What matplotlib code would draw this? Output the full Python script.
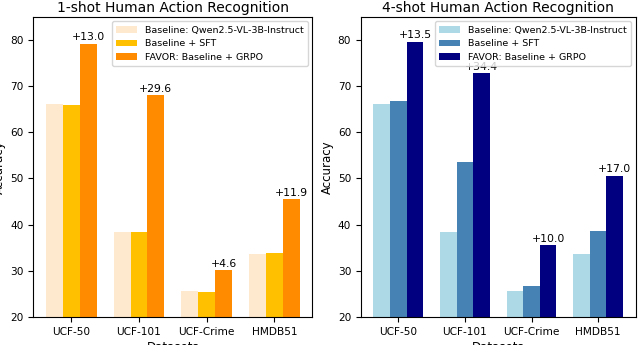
import matplotlib
matplotlib.use('Agg')
import matplotlib.pyplot as plt
import numpy as np

datasets = ['UCF-50', 'UCF-101', 'UCF-Crime', 'HMDB51']
labels = ['Baseline: Qwen2.5-VL-3B-Instruct', 'Baseline + SFT', 'FAVOR: Baseline + GRPO']

# 1-shot
base_1 = [66.1, 38.4, 25.6, 33.6]
sft_1 = [65.9, 38.3, 25.4, 33.9]
grpo_1 = [79.1, 68.0, 30.2, 45.5]
gain_1 = ['+13.0', '+29.6', '+4.6', '+11.9']

# 4-shot
base_4 = [66.1, 38.4, 25.6, 33.6]
sft_4 = [66.8, 53.6, 26.7, 38.7]
grpo_4 = [79.6, 72.8, 35.6, 50.6]
gain_4 = ['+13.5', '+34.4', '+10.0', '+17.0']

colors_1 = ['#FFE9CE', '#FFC000', '#FF8C00']
colors_4 = ['#ADD8E6', '#4682B4', '#000080']

fig = plt.figure(figsize=(6.4, 3.45), dpi=100)
ax1 = fig.add_axes([0.052, 0.081, 0.436, 0.871])
ax2 = fig.add_axes([0.564, 0.081, 0.429, 0.871])

x = np.arange(len(datasets))
width = 0.25


def draw(ax, base, sft, grpo, gains, colors, title):
    ax.bar(x - width, base, width, color=colors[0], label=labels[0])
    ax.bar(x, sft, width, color=colors[1], label=labels[1])
    r = ax.bar(x + width, grpo, width, color=colors[2], label=labels[2])
    for rect, g in zip(r, gains):
        ax.annotate(g, xy=(rect.get_x() + rect.get_width() / 2, rect.get_height()),
                    xytext=(0, 1), textcoords='offset points',
                    ha='center', va='bottom', fontsize=7.8)
    ax.set_ylim(20, 85)
    ax.set_xticks(x)
    ax.set_xticklabels(datasets, fontsize=7.6)
    ax.tick_params(axis='y', labelsize=7.6)
    ax.set_ylabel('Accuracy', fontsize=8.5, labelpad=3)
    ax.set_xlabel('Datasets', fontsize=8.5, labelpad=3)
    ax.set_title(title, fontsize=10, pad=3)
    ax.legend(loc='upper right', fontsize=6.8, handlelength=2.2, borderpad=0.45,
              labelspacing=0.5, framealpha=0.8)


draw(ax1, base_1, sft_1, grpo_1, gain_1, colors_1, '1-shot Human Action Recognition')
draw(ax2, base_4, sft_4, grpo_4, gain_4, colors_4, '4-shot Human Action Recognition')

fig.savefig('out.png', dpi=100)
